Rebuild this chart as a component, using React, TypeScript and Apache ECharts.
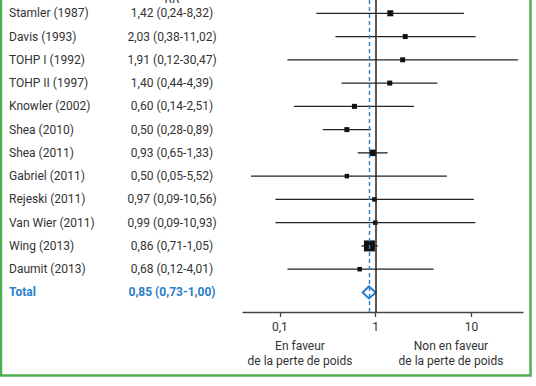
import React, { useEffect, useRef } from "react";
import * as echarts from "echarts";

const studies = [
  "Stamler (1987)",
  "Davis (1993)",
  "TOHP I (1992)",
  "TOHP II (1997)",
  "Knowler (2002)",
  "Shea (2010)",
  "Shea (2011)",
  "Gabriel (2011)",
  "Rejeski (2011)",
  "Van Wier (2011)",
  "Wing (2013)",
  "Daumit (2013)",
];
const rrValues = [1.42, 2.03, 1.91, 1.4, 0.6, 0.5, 0.93, 0.5, 0.97, 0.99, 0.86, 0.68];
const ciLow = [0.24, 0.38, 0.12, 0.44, 0.14, 0.28, 0.65, 0.05, 0.09, 0.09, 0.71, 0.12];
const ciHigh = [8.32, 11.02, 30.47, 4.39, 2.51, 0.89, 1.33, 5.52, 10.56, 10.93, 1.05, 4.01];
const weights = [6, 5, 5, 5, 5, 5, 6.5, 4.5, 4.5, 4.5, 11, 4.5];

const totalName = "Total";
const totalRR = 0.85;
const totalLow = 0.73;
const totalHigh = 1.0;

const tickValues = [0.1, 1, 10];
const tickLabels = ["0,1", "1", "10"];
const headerRR = "RR";
const favourLeft = "En faveur\nde la perte de poids";
const favourRight = "Non en faveur\nde la perte de poids";

const fmt = (v: number) => v.toFixed(2).replace(".", ",");
const ciText = (r: number, l: number, h: number) => `${fmt(r)} (${fmt(l)}-${fmt(h)})`;

const FONT = "Roboto, 'DejaVu Sans', sans-serif";
const TEXT_COLOR = "#333333";
const BLUE = "#2a7fc9";

export default function App() {
  const ref = useRef<HTMLDivElement>(null);

  useEffect(() => {
    if (!ref.current) return;
    const chart = echarts.init(ref.current, null, { renderer: "svg" });

    const names = [...studies, totalName];
    const texts = [
      ...rrValues.map((r, i) => ciText(r, ciLow[i], ciHigh[i])),
      ciText(totalRR, totalLow, totalHigh),
    ];
    const data = rrValues.map((r, i) => [
      i,
      Math.log10(ciLow[i]),
      Math.log10(r),
      Math.log10(ciHigh[i]),
      weights[i],
      0,
    ]);
    data.push([
      studies.length,
      Math.log10(totalLow),
      Math.log10(totalRR),
      Math.log10(totalHigh),
      0,
      1,
    ]);

    const logTicks = tickValues.map((v) => Math.log10(v));

    const option: any = {
      animation: false,
      backgroundColor: "#ffffff",
      grid: { left: 243, width: 280, top: 0, bottom: 74 },
      xAxis: {
        type: "value",
        min: -1.384,
        max: 1.536,
        axisLine: { show: true, onZero: false, lineStyle: { color: "#444", width: 1.3 } },
        axisTick: {
          show: true,
          customValues: logTicks,
          length: 5,
          inside: false,
          lineStyle: { color: "#444", width: 1.3 },
        },
        axisLabel: {
          show: true,
          customValues: logTicks,
          margin: 9,
          color: TEXT_COLOR,
          fontSize: 12,
          fontFamily: FONT,
          formatter: (v: number) => {
            let best = 0;
            logTicks.forEach((t, i) => {
              if (Math.abs(t - v) < Math.abs(logTicks[best] - v)) best = i;
            });
            return tickLabels[best];
          },
        },
        splitLine: { show: false },
      },
      yAxis: {
        type: "value",
        inverse: true,
        min: -0.571,
        max: 12.84,
        show: false,
        splitLine: { show: false },
      },
      series: [
        {
          type: "line",
          data: [],
          silent: true,
          markLine: {
            silent: true,
            symbol: "none",
            label: { show: false },
            data: [
              { xAxis: 0, lineStyle: { color: "#222", width: 1.5, type: "solid" } },
              {
                xAxis: Math.log10(totalRR),
                lineStyle: { color: BLUE, width: 1.4, type: [4, 3], opacity: 1 },
              },
            ],
          },
        },
        {
          type: "custom",
          clip: false,
          silent: true,
          encode: { x: [1, 2, 3], y: 0 },
          data,
          renderItem: (params: any, api: any) => {
            const idx = api.value(0);
            const lo = api.value(1);
            const rr = api.value(2);
            const hi = api.value(3);
            const size = api.value(4);
            const isTotal = api.value(5) === 1;
            const pLo = api.coord([lo, idx]);
            const pRR = api.coord([rr, idx]);
            const pHi = api.coord([hi, idx]);
            const y = pRR[1];
            const children: any[] = [];
            if (isTotal) {
              children.push({
                type: "polygon",
                shape: {
                  points: [
                    [pLo[0], y],
                    [pRR[0], y - 6],
                    [pHi[0], y],
                    [pRR[0], y + 6],
                  ],
                },
                style: { stroke: BLUE, lineWidth: 2, fill: "none" },
              });
            } else {
              children.push({
                type: "line",
                shape: { x1: pLo[0], y1: y, x2: pHi[0], y2: y },
                style: { stroke: "#222", lineWidth: 1.3 },
              });
              children.push({
                type: "rect",
                shape: { x: pRR[0] - size / 2, y: y - size / 2, width: size, height: size },
                style: { fill: "#111" },
              });
            }
            children.push({
              type: "text",
              x: 9,
              y,
              style: {
                text: names[idx],
                fill: isTotal ? BLUE : TEXT_COLOR,
                fontSize: 12,
                fontFamily: FONT,
                fontWeight: isTotal ? "bold" : "normal",
                align: "left",
                verticalAlign: "middle",
              },
            });
            children.push({
              type: "text",
              x: 172,
              y,
              style: {
                text: texts[idx],
                fill: isTotal ? BLUE : TEXT_COLOR,
                fontSize: 12,
                fontFamily: FONT,
                fontWeight: isTotal ? "bold" : "normal",
                align: "center",
                verticalAlign: "middle",
              },
            });
            return { type: "group", children };
          },
        },
      ],
      graphic: [
        {
          type: "rect",
          silent: true,
          shape: { x: 1, y: -5, width: 529.5, height: 380.5 },
          style: { fill: "none", stroke: "#4caf50", lineWidth: 2.5 },
        },
        {
          type: "text",
          x: 172,
          y: -1,
          style: {
            text: headerRR,
            fill: TEXT_COLOR,
            fontSize: 12,
            fontFamily: FONT,
            align: "center",
            verticalAlign: "middle",
          },
        },
        {
          type: "text",
          x: 300,
          y: 338.5,
          style: {
            text: favourLeft,
            fill: TEXT_COLOR,
            fontSize: 12,
            fontFamily: FONT,
            align: "center",
            verticalAlign: "top",
            lineHeight: 15,
          },
        },
        {
          type: "text",
          x: 451,
          y: 338.5,
          style: {
            text: favourRight,
            fill: TEXT_COLOR,
            fontSize: 12,
            fontFamily: FONT,
            align: "center",
            verticalAlign: "top",
            lineHeight: 15,
          },
        },
      ],
    };

    chart.setOption(option);
    return () => chart.dispose();
  }, []);

  return (
    <div
      ref={ref}
      style={{ position: "fixed", left: 0, top: 0, width: 536, height: 386 }}
    />
  );
}
